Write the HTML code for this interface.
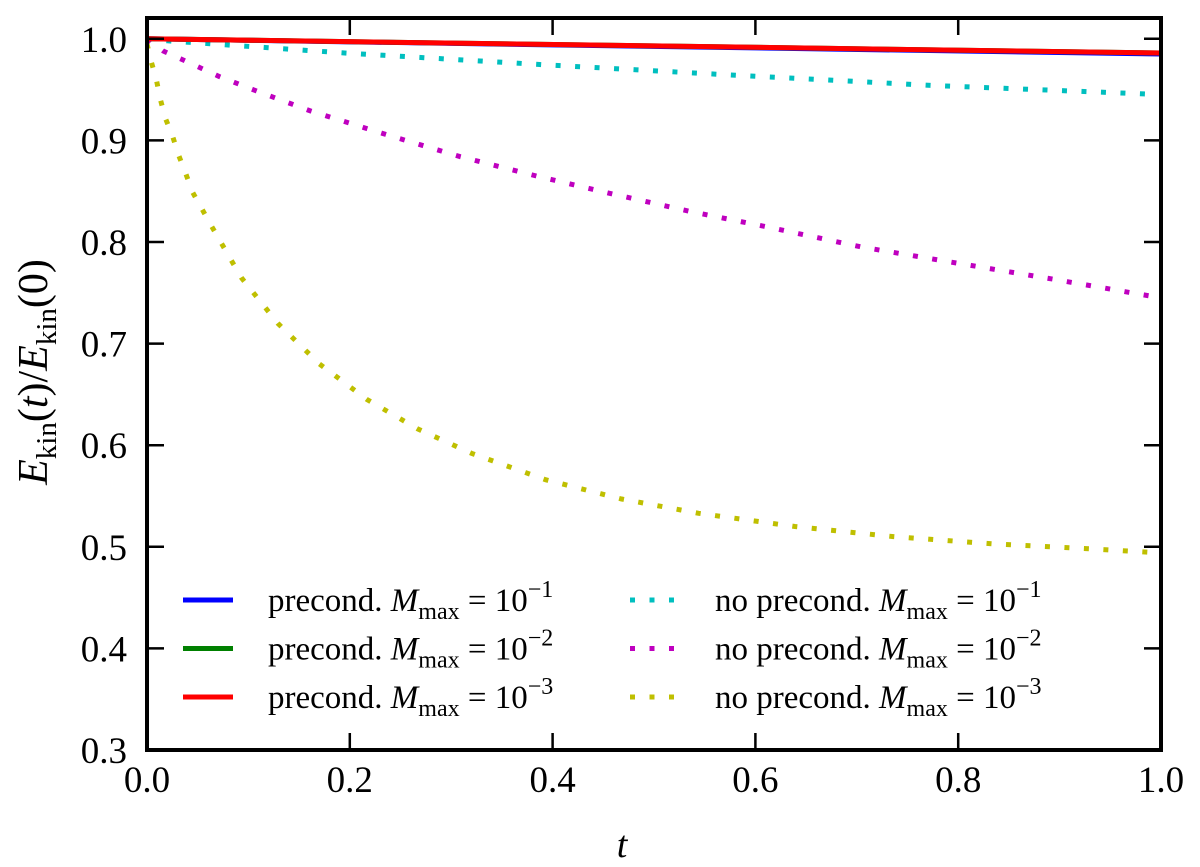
<!DOCTYPE html>
<html><head><meta charset="utf-8"><style>
html,body{margin:0;padding:0;background:#fff;}
svg{display:block;font-family:"Liberation Serif",serif;}
</style></head><body>
<svg id="chart" width="1200" height="867" xmlns="http://www.w3.org/2000/svg">
<g id="series"></g>
<g id="axes"></g>
<text x="622" y="857" font-size="38" font-style="italic" text-anchor="middle">t</text>
<text transform="translate(47,372) rotate(-90)" font-size="42" text-anchor="middle"><tspan font-style="italic">E</tspan><tspan font-size="29" dy="9">kin</tspan><tspan dy="-9">(</tspan><tspan font-style="italic">t</tspan>)/<tspan font-style="italic">E</tspan><tspan font-size="29" dy="9">kin</tspan><tspan dy="-9">(0)</tspan></text>
<g id="legend"></g>
</svg>
<script>
const xTicks=[0,0.2,0.4,0.6,0.8,1.0];
const xTickLabels=["0.0","0.2","0.4","0.6","0.8","1.0"];
const yTicks=[0.3,0.4,0.5,0.6,0.7,0.8,0.9,1.0];
const yTickLabels=["0.3","0.4","0.5","0.6","0.7","0.8","0.9","1.0"];
const tPre=[0,1];
const precond1=[1.0,0.985];
const precond2=[1.0,0.986];
const precond3=[1.0,0.986];
const tCyan=[0,0.02,0.195,0.389,0.583,0.776,0.983,1.0];
const noPre1=[1.0,0.998,0.986,0.9746,0.964,0.954,0.9458,0.945];
const tMag=[0,0.016,0.036,0.071,0.107,0.161,0.235,0.309,0.384,0.46,0.536,0.611,0.705,0.8,0.896,1.0];
const noPre2=[1.0,0.988,0.979,0.963,0.949,0.929,0.906,0.884,0.865,0.847,0.830,0.815,0.795,0.779,0.763,0.745];
const tYel=[0,0.004,0.009,0.013,0.018,0.025,0.031,0.038,0.045,0.064,0.093,0.129,0.170,0.217,0.267,0.320,0.393,0.468,0.544,0.639,0.736,0.833,0.930,1.0];
const noPre3=[0.995,0.978,0.961,0.941,0.922,0.905,0.886,0.868,0.849,0.815,0.765,0.720,0.680,0.645,0.616,0.592,0.566,0.547,0.533,0.520,0.510,0.503,0.498,0.494];
const legendLabels=["precond.","precond.","precond.","no precond.","no precond.","no precond."];
const legendExp=["−1","−2","−3","−1","−2","−3"];

const NS="http://www.w3.org/2000/svg";
const L=147,R=1161,T=18,B=750;
const X=t=>L+t*(R-L);
const Y=v=>B-(v-0.3)/0.1*101.6;
function mk(tag,attrs,parent){const e=document.createElementNS(NS,tag);for(const k in attrs)e.setAttribute(k,attrs[k]);parent.appendChild(e);return e;}
const gs=document.getElementById('series'),ga=document.getElementById('axes'),gl=document.getElementById('legend');
const defs=mk('defs',{},gs);const cp=mk('clipPath',{id:'clip'},defs);mk('rect',{x:L,y:T,width:R-L,height:B-T},cp);
function line(ts,vs,color,dotted,name){
  let d=ts.map((t,i)=>(i?'L':'M')+X(t).toFixed(1)+' '+Y(vs[i]).toFixed(1)).join(' ');
  const p=mk('path',{d:d,fill:'none',stroke:color,'stroke-width':5,'clip-path':'url(#clip)'},gs);
  if(dotted)p.setAttribute('stroke-dasharray','5 14.5');
  
  
}
line(tCyan,noPre1,'#00bfbf',true,'series-noprecond-1e-1');
line(tMag,noPre2,'#bf00bf',true,'series-noprecond-1e-2');
line(tYel,noPre3,'#bfbf00',true,'series-noprecond-1e-3');
line(tPre,precond1,'#0000ff',false,'series-precond-1e-1');
line(tPre,precond2,'#008000',false,'series-precond-1e-2');
line(tPre,precond3,'#ff0000',false,'series-precond-1e-3');
const fr=mk('rect',{x:L,y:T,width:R-L,height:B-T,fill:'none',stroke:'#000','stroke-width':4},ga);


xTicks.forEach((t,i)=>{
  const x=X(t);
  mk('line',{x1:x,x2:x,y1:B,y2:B-17,stroke:'#000','stroke-width':2.5},ga);
  mk('line',{x1:x,x2:x,y1:T,y2:T+17,stroke:'#000','stroke-width':2.5},ga);
  const tx=mk('text',{x:x,y:792,'font-size':37,'text-anchor':'middle'},ga);
  tx.textContent=xTickLabels[i];
  
  
});
yTicks.forEach((v,i)=>{
  const y=Y(v);
  mk('line',{x1:L,x2:L+17,y1:y,y2:y,stroke:'#000','stroke-width':2.5},ga);
  mk('line',{x1:R,x2:R-17,y1:y,y2:y,stroke:'#000','stroke-width':2.5},ga);
  const tx=mk('text',{x:127,y:y+13,'font-size':37,'text-anchor':'end'},ga);
  tx.textContent=yTickLabels[i];
  
  
});
const colors=['#0000ff','#008000','#ff0000','#00bfbf','#bf00bf','#bfbf00'];
for(let i=0;i<6;i++){
  const col=i<3?0:1,row=i%3;
  const lx=col?630:183,y=600+row*48.5;
  const ln=mk('line',{x1:lx,x2:lx+50,y1:y,y2:y,stroke:colors[i],'stroke-width':5},gl);
  if(col)ln.setAttribute('stroke-dasharray','5 14.5');
  
  
  const tx=mk('text',{x:lx+85,y:y+11,'font-size':33},gl);
  tx.innerHTML=legendLabels[i]+' <tspan font-style="italic">M</tspan><tspan font-size="24" dy="8">max</tspan><tspan dy="-8"> = 10</tspan><tspan font-size="24" dy="-14">'+legendExp[i]+'</tspan>';
  
  
}
</script>
</body></html>
